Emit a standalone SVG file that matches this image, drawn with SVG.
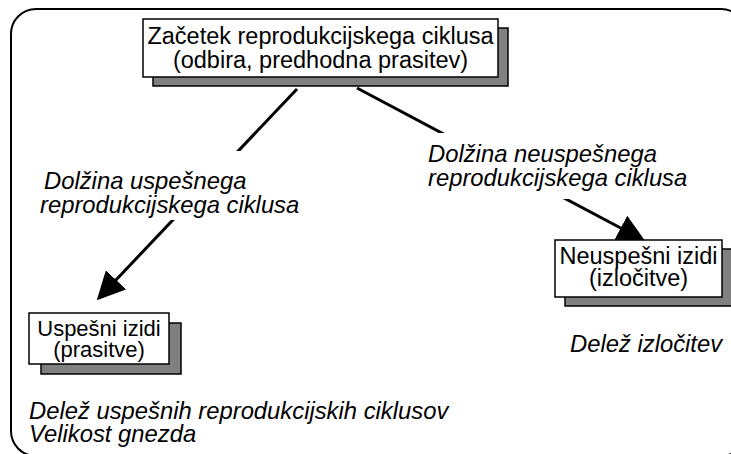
<svg xmlns="http://www.w3.org/2000/svg" width="731" height="454" viewBox="0 0 731 454">
<style>
.box{fill:#fff;stroke:#000;stroke-width:1.5}
.sh{fill:#808080;stroke:#000;stroke-width:1.5}
.t{font-family:"Liberation Sans",Arial,sans-serif;font-size:23.5px;fill:#000;text-anchor:middle}
.ts{font-family:"Liberation Sans",Arial,sans-serif;font-size:22px;fill:#000;text-anchor:middle}
.it{font-family:"Liberation Sans",Arial,sans-serif;font-size:23.8px;font-style:italic;fill:#000}
.bg{fill:#fff;stroke:none}
.ln{stroke:#000;stroke-width:3;fill:none;marker-end:url(#ah)}
</style>
<defs>
<marker id="ah" markerUnits="userSpaceOnUse" markerWidth="28" markerHeight="28" viewBox="0 0 27 27" refX="17" refY="13.5" orient="auto">
<path d="M0,0 L27,13.5 L0,27 z" fill="#000"/>
</marker>
</defs>
<rect x="11" y="9" width="735" height="447" rx="25" ry="25" fill="none" stroke="#000" stroke-width="2"/>
<g id="connectors">
<line class="ln" x1="297" y1="89" x2="103.9" y2="292.7"/>
<line class="ln" x1="357" y1="88" x2="636.2" y2="236.3"/>
</g>
<g id="start">
<rect class="sh" x="153" y="28" width="355" height="58"/>
<rect class="box" x="143" y="19" width="355" height="58"/>
<text class="t" x="320.5" y="43.5">Začetek reprodukcijskega ciklusa</text>
<text class="t" x="320.5" y="68">(odbira, predhodna prasitev)</text>
</g>
<g id="success">
<rect class="sh" x="41" y="323" width="140" height="51"/>
<rect class="box" x="29" y="313" width="140" height="51"/>
<text class="ts" x="99" y="336">Uspešni izidi</text>
<text class="ts" x="99" y="357">(prasitve)</text>
</g>
<g id="fail">
<rect class="sh" x="565" y="249" width="167" height="57"/>
<rect class="box" x="555" y="240" width="167" height="57"/>
<text class="t" x="638.5" y="263.5">Neuspešni izidi</text>
<text class="t" x="638.5" y="286">(izločitve)</text>
</g>
<g id="labels">
<rect class="bg" x="36" y="151" width="272" height="69"/>
<rect class="bg" x="422" y="133" width="270" height="66"/>
<text class="it" x="44" y="189">Dolžina uspešnega</text>
<text class="it" x="40" y="213">reprodukcijskega ciklusa</text>
<text class="it" x="428" y="162">Dolžina neuspešnega</text>
<text class="it" x="428" y="186">reprodukcijskega ciklusa</text>
<text class="it" x="570" y="352">Delež izločitev</text>
<text class="it" x="29" y="419">Delež uspešnih reprodukcijskih ciklusov</text>
<text class="it" x="29" y="442">Velikost gnezda</text>
</g>
</svg>
